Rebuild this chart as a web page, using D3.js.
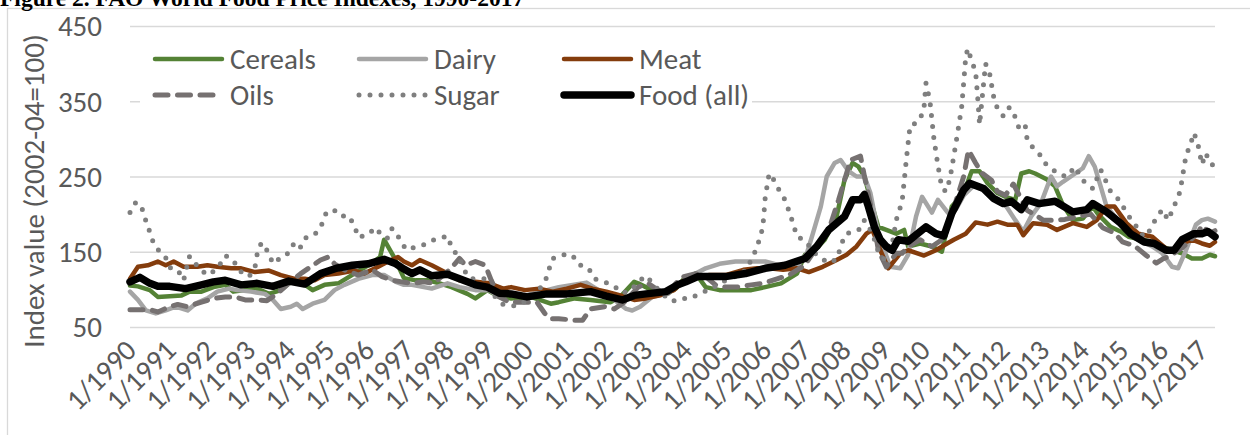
<!DOCTYPE html>
<html>
<head>
<meta charset="utf-8">
<script src="https://cdn.jsdelivr.net/npm/d3@7"></script>
<style>
  body { margin: 0; background: #fff; }
  text { font-family: Carlito, Calibri, Lato, sans-serif; }
</style>
</head>
<body>
<div id="chart"></div>
<script>
// values, [decimal year, index]
const cereals = [[1990.0,105],[1990.2,104],[1990.5,99],[1990.7,90],[1991.0,91],[1991.3,92],[1991.5,97],[1991.8,97],[1992.1,103],[1992.4,106],[1992.6,97],[1992.9,99],[1993.2,101],[1993.5,94],[1993.8,99],[1994.0,108],[1994.25,112],[1994.6,99],[1994.9,106],[1995.25,108],[1995.65,121],[1996.0,132],[1996.3,143],[1996.4,166],[1996.65,143],[1996.9,115],[1997.2,112],[1997.5,112],[1997.8,108],[1998.1,103],[1998.5,94],[1998.7,88],[1999.0,99],[1999.3,90],[1999.6,88],[2000.1,90],[2000.6,81],[2000.8,83],[2001.2,88],[2001.6,86],[2002.1,83],[2002.35,90],[2002.7,110],[2002.8,108],[2003.15,99],[2003.5,94],[2003.75,101],[2003.95,114],[2004.25,121],[2004.5,103],[2004.85,99],[2005.3,99],[2005.65,99],[2006.0,103],[2006.4,108],[2006.8,121],[2007.0,146],[2007.25,152],[2007.5,166],[2007.8,197],[2008.0,246],[2008.2,268],[2008.35,263],[2008.5,250],[2008.7,210],[2008.85,183],[2009.05,179],[2009.3,174],[2009.5,179],[2009.6,157],[2009.9,161],[2010.2,157],[2010.45,150],[2010.7,210],[2011.0,228],[2011.2,257],[2011.4,257],[2011.6,241],[2011.85,228],[2012.05,223],[2012.3,219],[2012.45,254],[2012.65,257],[2012.8,254],[2013.1,246],[2013.3,237],[2013.5,212],[2013.75,192],[2014.0,194],[2014.25,210],[2014.4,199],[2014.7,183],[2014.95,177],[2015.15,170],[2015.5,166],[2015.75,163],[2016.0,157],[2016.25,152],[2016.5,148],[2016.75,141],[2017.0,141],[2017.2,146],[2017.33,144]];

const dairy = [[1990.0,97],[1990.2,86],[1990.4,72],[1990.65,68],[1990.9,72],[1991.15,77],[1991.45,72],[1991.65,81],[1991.95,88],[1992.2,97],[1992.5,101],[1992.7,99],[1993.05,97],[1993.4,94],[1993.6,86],[1993.8,74],[1994.05,77],[1994.2,81],[1994.35,74],[1994.6,81],[1994.9,86],[1995.15,99],[1995.4,106],[1995.75,114],[1996.1,119],[1996.4,119],[1996.7,110],[1996.9,106],[1997.1,106],[1997.6,101],[1998.0,108],[1998.3,103],[1998.7,99],[1999.05,99],[1999.3,90],[1999.6,94],[1999.95,92],[2000.5,99],[2000.8,103],[2001.15,106],[2001.5,109],[2001.8,99],[2002.15,88],[2002.5,74],[2002.65,72],[2002.85,77],[2003.15,90],[2003.5,94],[2003.75,103],[2003.95,108],[2004.25,121],[2004.5,128],[2004.85,134],[2005.25,137],[2005.7,137],[2006.0,137],[2006.35,132],[2006.8,130],[2007.05,148],[2007.2,174],[2007.4,210],[2007.55,250],[2007.75,268],[2007.9,272],[2008.1,257],[2008.3,250],[2008.5,250],[2008.65,228],[2008.85,174],[2009.15,130],[2009.4,128],[2009.6,146],[2009.8,197],[2009.95,223],[2010.2,202],[2010.35,219],[2010.6,202],[2010.8,206],[2011.0,225],[2011.25,238],[2011.5,232],[2011.75,220],[2012.05,212],[2012.3,192],[2012.5,177],[2012.7,197],[2012.95,215],[2013.2,250],[2013.35,237],[2013.5,243],[2013.7,250],[2014.0,261],[2014.15,277],[2014.3,263],[2014.45,237],[2014.6,210],[2014.95,188],[2015.15,174],[2015.4,166],[2015.75,157],[2016.0,148],[2016.25,130],[2016.4,128],[2016.6,152],[2016.85,186],[2017.0,192],[2017.15,194],[2017.33,190]];

const meat = [[1990.0,114],[1990.2,130],[1990.45,132],[1990.7,137],[1990.9,132],[1991.1,137],[1991.35,130],[1991.7,130],[1991.95,132],[1992.2,130],[1992.55,128],[1992.8,128],[1993.15,123],[1993.5,125],[1993.8,119],[1994.15,114],[1994.4,114],[1994.65,112],[1994.9,119],[1995.25,121],[1995.65,125],[1995.9,121],[1996.25,130],[1996.5,137],[1996.75,143],[1996.9,137],[1997.1,132],[1997.3,139],[1997.6,132],[1998.0,121],[1998.3,112],[1998.7,110],[1999.05,108],[1999.4,101],[1999.6,103],[1999.95,99],[2000.3,101],[2000.65,97],[2001.0,101],[2001.35,106],[2001.65,101],[2002.0,97],[2002.35,92],[2002.7,86],[2003.0,88],[2003.35,92],[2003.7,99],[2003.95,112],[2004.3,117],[2004.6,119],[2005.0,119],[2005.45,126],[2005.8,128],[2006.1,128],[2006.45,126],[2006.8,128],[2007.1,123],[2007.45,130],[2007.8,139],[2008.05,146],[2008.3,157],[2008.55,174],[2008.7,179],[2008.9,152],[2009.1,128],[2009.4,148],[2009.6,152],[2010.0,145],[2010.3,152],[2010.55,160],[2010.75,166],[2011.05,174],[2011.3,189],[2011.6,186],[2011.85,190],[2012.1,186],[2012.35,186],[2012.5,172],[2012.75,188],[2013.1,186],[2013.35,179],[2013.75,188],[2014.1,183],[2014.35,192],[2014.6,210],[2014.8,210],[2015.1,188],[2015.4,174],[2015.75,170],[2016.1,154],[2016.25,152],[2016.5,161],[2016.75,166],[2017.0,161],[2017.2,158],[2017.33,163]];

const oils = [[1990.0,73],[1990.3,73],[1990.5,73],[1990.7,70],[1991.0,77],[1991.2,80],[1991.45,77],[1991.8,83],[1992.1,88],[1992.4,90],[1992.65,90],[1992.9,86],[1993.2,86],[1993.45,85],[1993.7,94],[1994.0,108],[1994.3,121],[1994.55,130],[1994.8,139],[1995.0,143],[1995.15,134],[1995.4,126],[1995.75,119],[1996.1,126],[1996.35,117],[1996.6,112],[1996.85,110],[1997.1,108],[1997.4,110],[1997.65,108],[1998.05,126],[1998.3,141],[1998.45,132],[1998.7,137],[1998.95,132],[1999.1,112],[1999.3,90],[1999.55,83],[1999.95,83],[2000.25,83],[2000.45,68],[2000.6,61],[2000.8,61],[2001.2,59],[2001.4,59],[2001.6,74],[2001.95,77],[2002.2,74],[2002.45,83],[2002.8,103],[2003.05,108],[2003.3,99],[2003.55,94],[2003.75,108],[2003.95,117],[2004.25,121],[2004.5,117],[2004.75,106],[2005.0,103],[2005.3,103],[2005.65,106],[2005.95,108],[2006.3,114],[2006.6,119],[2007.0,132],[2007.25,152],[2007.6,179],[2007.85,219],[2008.15,272],[2008.4,277],[2008.5,250],[2008.7,201],[2008.85,152],[2009.05,130],[2009.3,148],[2009.45,148],[2009.6,157],[2009.9,166],[2010.2,157],[2010.45,166],[2010.7,200],[2011.0,250],[2011.12,285],[2011.3,268],[2011.45,255],[2011.7,245],[2011.85,230],[2012.05,225],[2012.25,240],[2012.45,220],[2012.6,205],[2012.8,199],[2013.0,192],[2013.3,192],[2013.55,193],[2013.9,197],[2014.2,200],[2014.5,182],[2014.8,175],[2015.0,163],[2015.3,158],[2015.6,145],[2015.85,135],[2016.0,140],[2016.2,145],[2016.5,155],[2016.7,165],[2016.9,175],[2017.0,185],[2017.2,175],[2017.33,178]];

const sugar = [[1990.0,202],[1990.15,216],[1990.3,208],[1990.4,191],[1990.5,176],[1990.6,160],[1990.75,150],[1990.9,142],[1991.0,129],[1991.2,126],[1991.35,112],[1991.5,144],[1991.65,134],[1991.85,123],[1992.0,119],[1992.25,132],[1992.4,145],[1992.6,139],[1992.75,125],[1993.0,117],[1993.15,130],[1993.2,146],[1993.3,161],[1993.4,160],[1993.5,143],[1993.65,134],[1993.8,144],[1994.0,148],[1994.15,163],[1994.3,156],[1994.45,170],[1994.7,175],[1994.85,188],[1994.95,203],[1995.15,205],[1995.3,197],[1995.5,198],[1995.65,185],[1995.75,169],[1995.95,172],[1996.2,182],[1996.35,170],[1996.5,168],[1996.6,181],[1996.8,167],[1996.95,153],[1997.1,155],[1997.35,158],[1997.6,165],[1997.8,168],[1998.0,171],[1998.1,156],[1998.3,141],[1998.5,117],[1998.65,114],[1998.97,114],[1999.2,90],[1999.4,80],[1999.7,78],[2000.0,85],[2000.3,100],[2000.45,109],[2000.55,126],[2000.65,141],[2000.8,144],[2001.0,147],[2001.15,145],[2001.3,133],[2001.45,130],[2001.55,128],[2001.7,114],[2001.95,110],[2002.2,104],[2002.4,95],[2002.6,98],[2002.8,110],[2003.0,118],[2003.1,112],[2003.3,100],[2003.6,85],[2003.75,85],[2003.9,88],[2004.1,88],[2004.3,93],[2004.6,100],[2005.0,112],[2005.3,118],[2005.5,125],[2005.7,144],[2005.8,158],[2005.9,173],[2005.95,189],[2006.0,222],[2006.1,254],[2006.2,247],[2006.35,232],[2006.5,219],[2006.6,204],[2006.7,188],[2006.8,170],[2007.0,165],[2007.3,145],[2007.6,135],[2007.8,140],[2008.0,172],[2008.2,178],[2008.4,180],[2008.5,192],[2008.7,175],[2008.85,150],[2009.0,140],[2009.2,160],[2009.3,192],[2009.45,217],[2009.55,270],[2009.65,318],[2009.8,321],[2009.9,326],[2010.0,341],[2010.05,374],[2010.15,350],[2010.25,300],[2010.35,265],[2010.45,235],[2010.55,230],[2010.65,246],[2010.75,277],[2010.85,309],[2010.95,343],[2011.0,375],[2011.05,408],[2011.1,420],[2011.2,404],[2011.3,389],[2011.35,357],[2011.4,319],[2011.55,400],[2011.65,388],[2011.75,357],[2011.85,340],[2012.0,330],[2012.15,342],[2012.3,329],[2012.4,313],[2012.55,318],[2012.6,298],[2012.75,288],[2012.9,281],[2013.0,270],[2013.2,261],[2013.4,253],[2013.6,250],[2013.8,263],[2014.0,245],[2014.25,234],[2014.45,259],[2014.7,230],[2014.95,217],[2015.1,201],[2015.3,188],[2015.45,174],[2015.6,170],[2015.8,190],[2016.0,206],[2016.15,192],[2016.35,217],[2016.45,230],[2016.6,278],[2016.7,291],[2016.8,308],[2016.9,293],[2017.0,266],[2017.1,281],[2017.2,268],[2017.33,263]];

const food = [[1990.0,110],[1990.25,116],[1990.5,108],[1990.7,104],[1991.0,104],[1991.4,101],[1991.8,106],[1992.1,110],[1992.4,112],[1992.8,106],[1993.2,108],[1993.6,104],[1994.0,111],[1994.4,107],[1994.8,121],[1995.2,128],[1995.6,132],[1996.0,134],[1996.4,140],[1996.7,134],[1996.9,127],[1997.1,121],[1997.3,126],[1997.6,118],[1998.0,120],[1998.3,114],[1998.7,106],[1999.0,103],[1999.3,95],[1999.6,94],[2000.0,90],[2000.5,94],[2001.0,94],[2001.6,97],[2002.0,91],[2002.4,86],[2002.7,92],[2003.0,94],[2003.5,97],[2003.8,106],[2004.0,110],[2004.3,117],[2004.6,117],[2005.0,117],[2005.5,121],[2006.0,128],[2006.5,132],[2007.0,141],[2007.3,157],[2007.6,179],[2008.0,197],[2008.2,219],[2008.4,219],[2008.5,226],[2008.6,210],[2008.75,183],[2008.9,166],[2009.05,157],[2009.2,152],[2009.35,166],[2009.6,164],[2010.05,183],[2010.3,174],[2010.5,171],[2010.7,201],[2011.0,232],[2011.15,241],[2011.5,234],[2011.75,221],[2012.0,214],[2012.2,217],[2012.45,206],[2012.6,219],[2012.9,214],[2013.3,217],[2013.75,203],[2014.1,206],[2014.25,214],[2014.6,203],[2014.95,188],[2015.2,174],[2015.55,163],[2015.8,161],[2016.1,152],[2016.3,152],[2016.5,166],[2016.8,174],[2017.0,174],[2017.15,177],[2017.33,170]];

const seriesNames = ["Cereals", "Dairy", "Meat", "Oils", "Sugar", "Food (all)"];
const yTicks = [50, 150, 250, 350, 450];
const xYears = d3.range(1990, 2018);

const w = 1250
const h = 435
const fs = 29

var svg = d3.select("#chart")
          .append('svg')
          .attr('width', w)
          .attr('height', h)

// outer chart border
svg.append('rect')
   .attr('x', 7.5)
   .attr('y', 8.5)
   .attr('width', 1300)
   .attr('height', 500)
   .attr('fill', 'none')
   .attr('stroke', '#d9d9d9')
   .attr('stroke-width', 1.3)

// title, cut by the top edge as in the source
svg.append('text')
   .attr('x', 0)
   .attr('y', 6)
   .style('font-family', '"Liberation Serif", serif')
   .attr('font-weight', 'bold')
   .attr('font-size', 23.5)
   .attr('fill', '#000')
   .text('Figure 2. FAO World Food Price Indexes, 1990-2017')

var x = d3.scaleLinear().domain([1990, 2017.33]).range([130, 1215])
var y = d3.scaleLinear().domain([50, 450]).range([327, 26])

// gridlines
svg.append('g')
   .attr('transform', 'translate(130,0)')
   .call(d3.axisLeft(y).tickValues(yTicks).tickSize(-(1215 - 130)).tickFormat(''))
   .call(g => g.select('.domain').remove())
   .call(g => g.selectAll('line').attr('stroke', '#d9d9d9').attr('stroke-width', 1.5))

// y tick labels
svg.selectAll('.ylab')
   .data(yTicks)
   .enter()
   .append('text')
   .attr('x', 102)
   .attr('y', d => y(d))
   .attr('dy', '0.36em')
   .attr('text-anchor', 'end')
   .attr('font-size', fs)
   .attr('fill', '#595959')
   .text(d => d)

// y title
svg.append('text')
   .attr('transform', 'translate(44,191) rotate(-90)')
   .attr('text-anchor', 'middle')
   .attr('font-size', fs)
   .attr('fill', '#595959')
   .text('Index value (2002-04=100)')

// x tick labels
svg.selectAll('.xlab')
   .data(xYears)
   .enter()
   .append('text')
   .attr('transform', d => 'translate(' + (x(d) + 8) + ',352) rotate(-45)')
   .attr('text-anchor', 'end')
   .attr('font-size', fs)
   .attr('fill', '#595959')
   .text(d => '1/' + d)

var styles = [
  {data: cereals, color: '#548235', width: 4.5, dash: null},
  {data: dairy,   color: '#a5a5a5', width: 4.5, dash: null},
  {data: meat,    color: '#843c0c', width: 4.5, dash: null},
  {data: oils,    color: '#767171', width: 5, dash: '13,9.5'},
  {data: sugar,   color: '#7f7f7f', width: 5, dash: '0,11'},
  {data: food,    color: '#000000', width: 7.5, dash: null}
]

var line = d3.line()
   .x(d => x(d[0]))
   .y(d => y(d[1]))

styles.forEach(function(s){
  svg.append('path')
     .attr('d', line(s.data))
     .attr('fill', 'none')
     .attr('stroke', s.color)
     .attr('stroke-width', s.width)
     .attr('stroke-linejoin', 'round')
     .attr('stroke-linecap', 'round')
     .attr('stroke-dasharray', s.dash)
})

// legend
var lg = svg.append('g')
lg.append('rect')
  .attr('x', 140)
  .attr('y', 38)
  .attr('width', 612)
  .attr('height', 76)
  .attr('fill', 'white')

var legX = [153, 357, 562]
var legY = [59, 95]
styles.forEach(function(s, i){
  var lx = legX[i % 3]
  var ly = legY[Math.floor(i / 3)]
  lg.append('line')
    .attr('x1', lx + 2)
    .attr('x2', lx + 69)
    .attr('y1', ly)
    .attr('y2', ly)
    .attr('stroke', s.color)
    .attr('stroke-width', s.width)
    .attr('stroke-linecap', 'round')
    .attr('stroke-dasharray', s.dash)
  lg.append('text')
    .attr('x', lx + 77)
    .attr('y', ly)
    .attr('dy', '0.36em')
    .attr('font-size', fs)
    .attr('fill', '#595959')
    .text(seriesNames[i])
})
</script>
</body>
</html>
